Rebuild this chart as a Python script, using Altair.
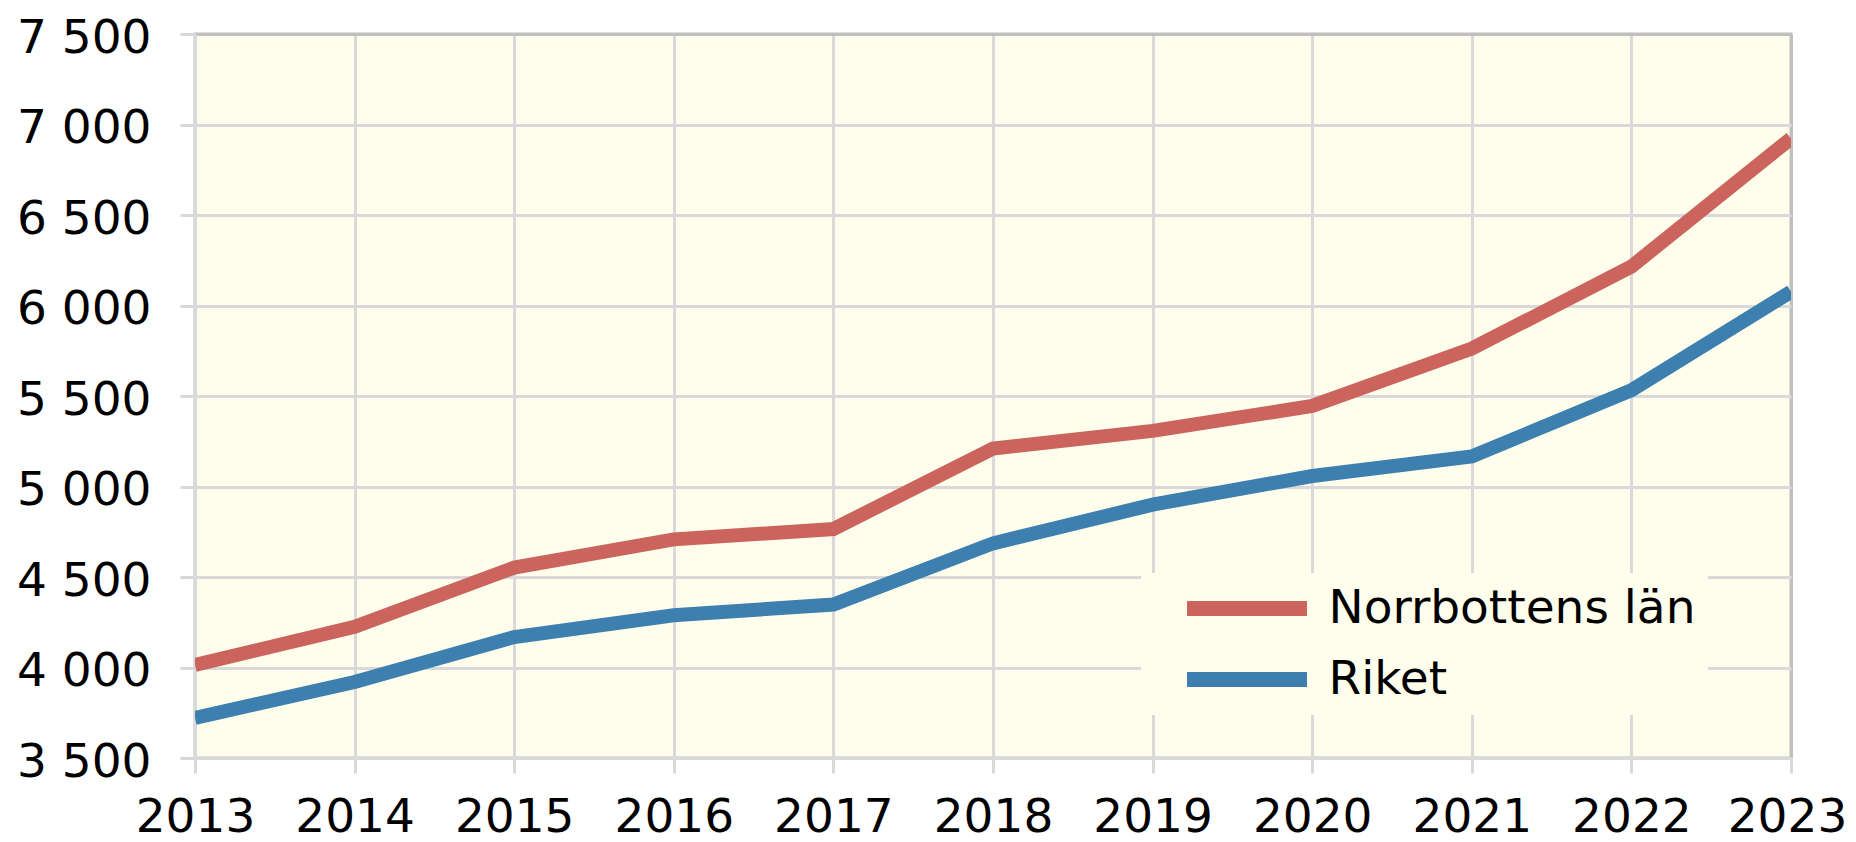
import altair as alt
import pandas as pd

# ---- data ----
years = list(range(2013, 2024))
norrbotten = [4014, 4225, 4552, 4708, 4765, 5210, 5307, 5445, 5762, 6215, 6923]
riket = [3722, 3920, 4168, 4289, 4348, 4686, 4900, 5058, 5166, 5532, 6076]
series_names = ["Norrbottens län", "Riket"]
series_colors = ["#CA645D", "#3D7FAF"]
y_ticks = [3500, 4000, 4500, 5000, 5500, 6000, 6500, 7000, 7500]

rows = []
for yr, a, b in zip(years, norrbotten, riket):
    rows.append({"year": yr, "series": series_names[0], "value": a})
    rows.append({"year": yr, "series": series_names[1], "value": b})
df = pd.DataFrame(rows)

GRID = "#D9D9D9"
BORDER = "#BFBFBF"
BG = "#FFFEEC"
FONT = "DejaVu Sans"

x_axis = alt.Axis(
    values=years, format="d", title=None, grid=True,
    gridColor={"condition": {"test": f"datum.value === {years[-1]}", "value": BORDER}, "value": GRID},
    gridWidth=3, domainColor=GRID, domainWidth=3, tickColor=GRID, tickWidth=3, tickSize=15,
    labelFont=FONT, labelFontSize=47, labelColor="black", labelPadding=21,
    labelOffset={"condition": {"test": f"datum.value === {years[-1]}", "value": -4}, "value": 0},
    labelFlush=False, labelOverlap=False,
)
y_axis = alt.Axis(
    values=y_ticks, title=None, grid=True,
    labelExpr="replace(format(datum.value, ',d'), ',', ' ')",
    gridColor={"condition": {"test": f"datum.value === {y_ticks[-1]}", "value": BORDER}, "value": GRID},
    gridWidth=3, domainColor=GRID, domainWidth=3, tickColor=GRID, tickWidth=3, tickSize=15,
    labelFont=FONT, labelFontSize=47, labelColor="black", labelPadding=29, labelOffset=4,
    labelOverlap=False,
)

legend = alt.Legend(
    title=None, orient="none", legendX=946, legendY=539, direction="vertical",
    symbolType="stroke", symbolSize=14400, symbolStrokeWidth=15,
    labelFont=FONT, labelFontSize=47, labelColor="black", labelLimit=1000,
    fillColor=BG, padding=12.5, rowPadding=24, clipHeight=46,
    symbolOffset=26, labelOffset=14,
)

chart = alt.Chart(df).mark_line(strokeWidth=14, clip=True, strokeCap="butt").encode(
    x=alt.X("year:Q", scale=alt.Scale(domain=[years[0], years[-1]], nice=False, zero=False), axis=x_axis),
    y=alt.Y("value:Q", scale=alt.Scale(domain=[y_ticks[0], y_ticks[-1]], nice=False, zero=False), axis=y_axis),
    color=alt.Color("series:N", scale=alt.Scale(domain=series_names, range=series_colors), legend=legend),
).properties(
    width=1596, height=724, background="white",
    padding={"left": 187, "top": 26, "right": 57, "bottom": 84},
    autosize=alt.AutoSizeParams(type="none"),
).configure_view(fill=BG, stroke=BORDER, strokeWidth=3)

chart.save("out.html", embed_options={"renderer": "svg", "actions": False})
